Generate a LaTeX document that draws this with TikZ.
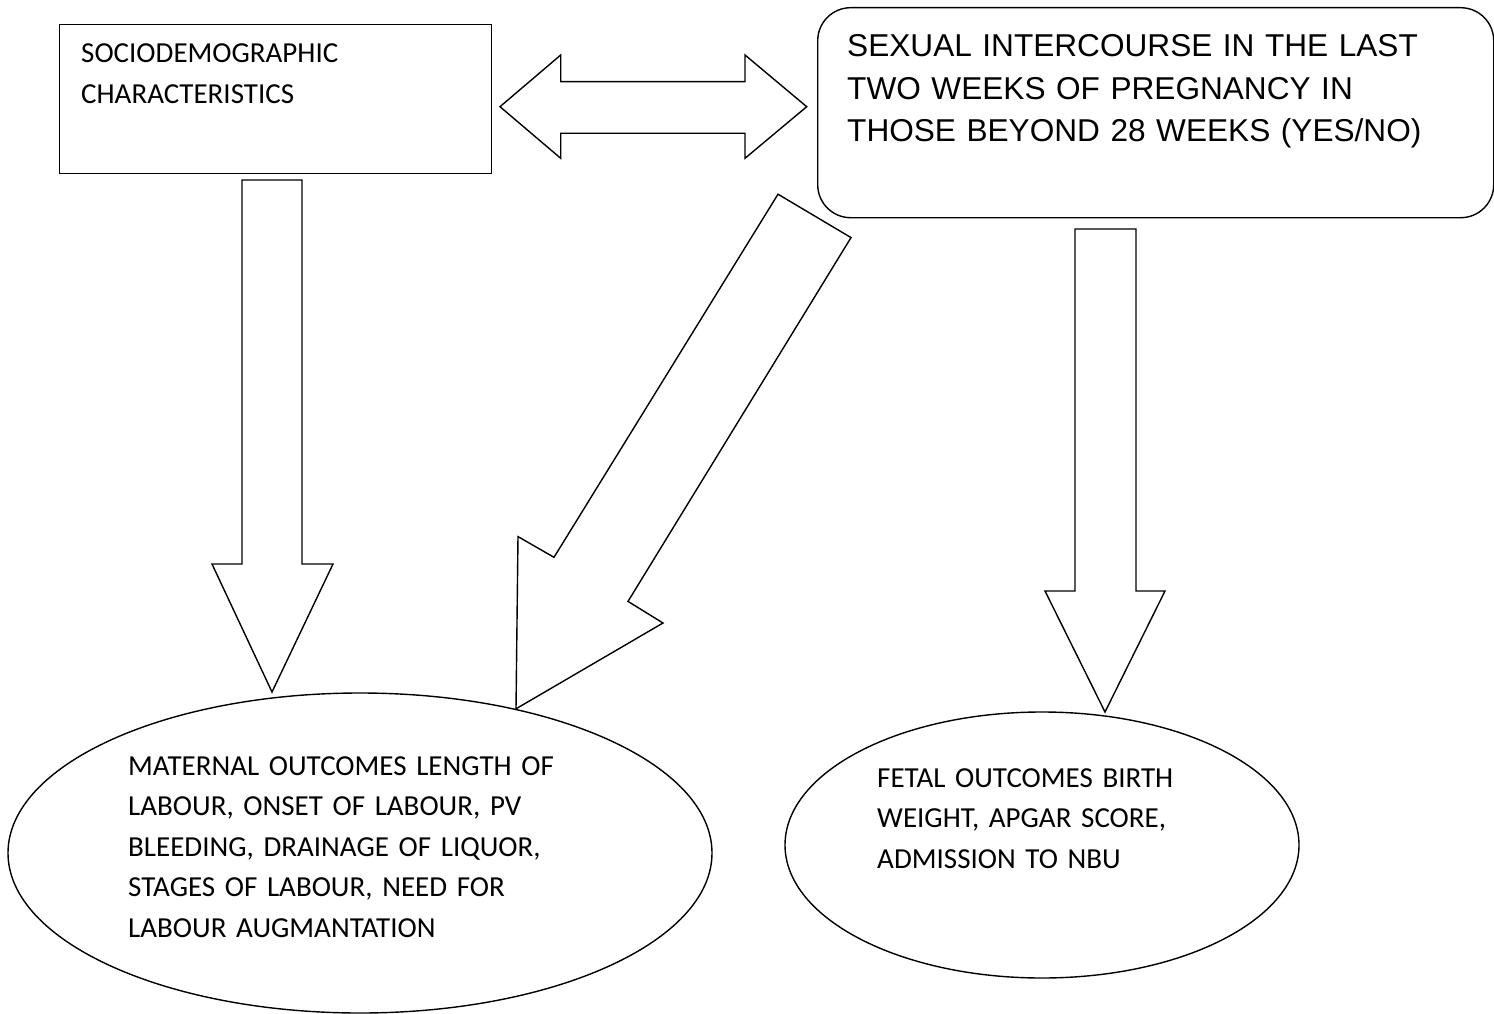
\documentclass[tikz,border=0pt]{standalone}
\usepackage{fontspec}
\setmainfont{Carlito}
\newfontfamily\arialf{Liberation Sans}
\usetikzlibrary{shapes.geometric}
\tikzset{
  outline/.style={draw=black, line width=1.4pt, line join=miter, fill=white},
  calibritext/.style={anchor=base west, inner sep=0pt, align=left, font=\fontsize{29}{40.5}\selectfont},
  arialtext/.style={anchor=base west, inner sep=0pt, align=left, font=\arialf\fontsize{31.6}{42.5}\selectfont},
}
\begin{document}
\begin{tikzpicture}[x=1pt,y=-1pt]
\useasboundingbox (0,0) rectangle (1494,1014);
\fill[white] (0,0) rectangle (1494,1014);

% boxes
\node[outline, rectangle, anchor=north west, inner sep=0pt, minimum width=432pt, minimum height=149pt] (socio) at (59,24) {};
\node[outline, rectangle, rounded corners=33pt, anchor=north west, inner sep=0pt, minimum width=676pt, minimum height=210pt] (sex) at (817,7) {};
\node[outline, ellipse, inner sep=0pt, minimum width=704pt, minimum height=320pt] (mat) at (360,853) {};
\node[outline, ellipse, inner sep=0pt, minimum width=514pt, minimum height=266pt] (fet) at (1042,845) {};

% double arrow between socio and sex
\draw[outline] (500,106.7) -- (560.7,55) -- (560.7,81.7) -- (745,81.7) -- (745,55)
  -- (806.7,106.7) -- (745,158.3) -- (745,133.3) -- (560.7,133.3) -- (560.7,158.3) -- cycle;

% socio -> maternal
\draw[outline] (242,180) -- (302,180) -- (302,564) -- (333,564) -- (272,692)
  -- (212,564) -- (242,564) -- cycle;

% sex -> maternal (diagonal)
\draw[outline] (778,194.2) -- (851,237.6) -- (628,601.4) -- (663,623) -- (516,708.8)
  -- (518,536.6) -- (554,557.3) -- cycle;

% sex -> fetal
\draw[outline] (1075,229) -- (1136,229) -- (1136,591) -- (1165,591) -- (1105,712)
  -- (1045,591) -- (1075,591) -- cycle;

% texts
\node[calibritext, text width=380pt] (sociotext) at (81,63) {SOCIODEMOGRAPHIC\\CHARACTERISTICS};
\node[arialtext, text width=640pt] (sextext) at (847,57) {SEXUAL INTERCOURSE IN THE LAST\\TWO WEEKS OF PREGNANCY IN\\THOSE BEYOND 28 WEEKS (YES/NO)};
\node[calibritext, text width=500pt] (mattext) at (128,775) {MATERNAL OUTCOMES LENGTH OF\\LABOUR, ONSET OF LABOUR, PV\\BLEEDING, DRAINAGE OF LIQUOR,\\STAGES OF LABOUR, NEED FOR\\LABOUR AUGMANTATION};
\node[calibritext, text width=400pt] (fettext) at (877,787) {FETAL OUTCOMES BIRTH\\WEIGHT, APGAR SCORE,\\ADMISSION TO NBU};
\end{tikzpicture}
\end{document}
